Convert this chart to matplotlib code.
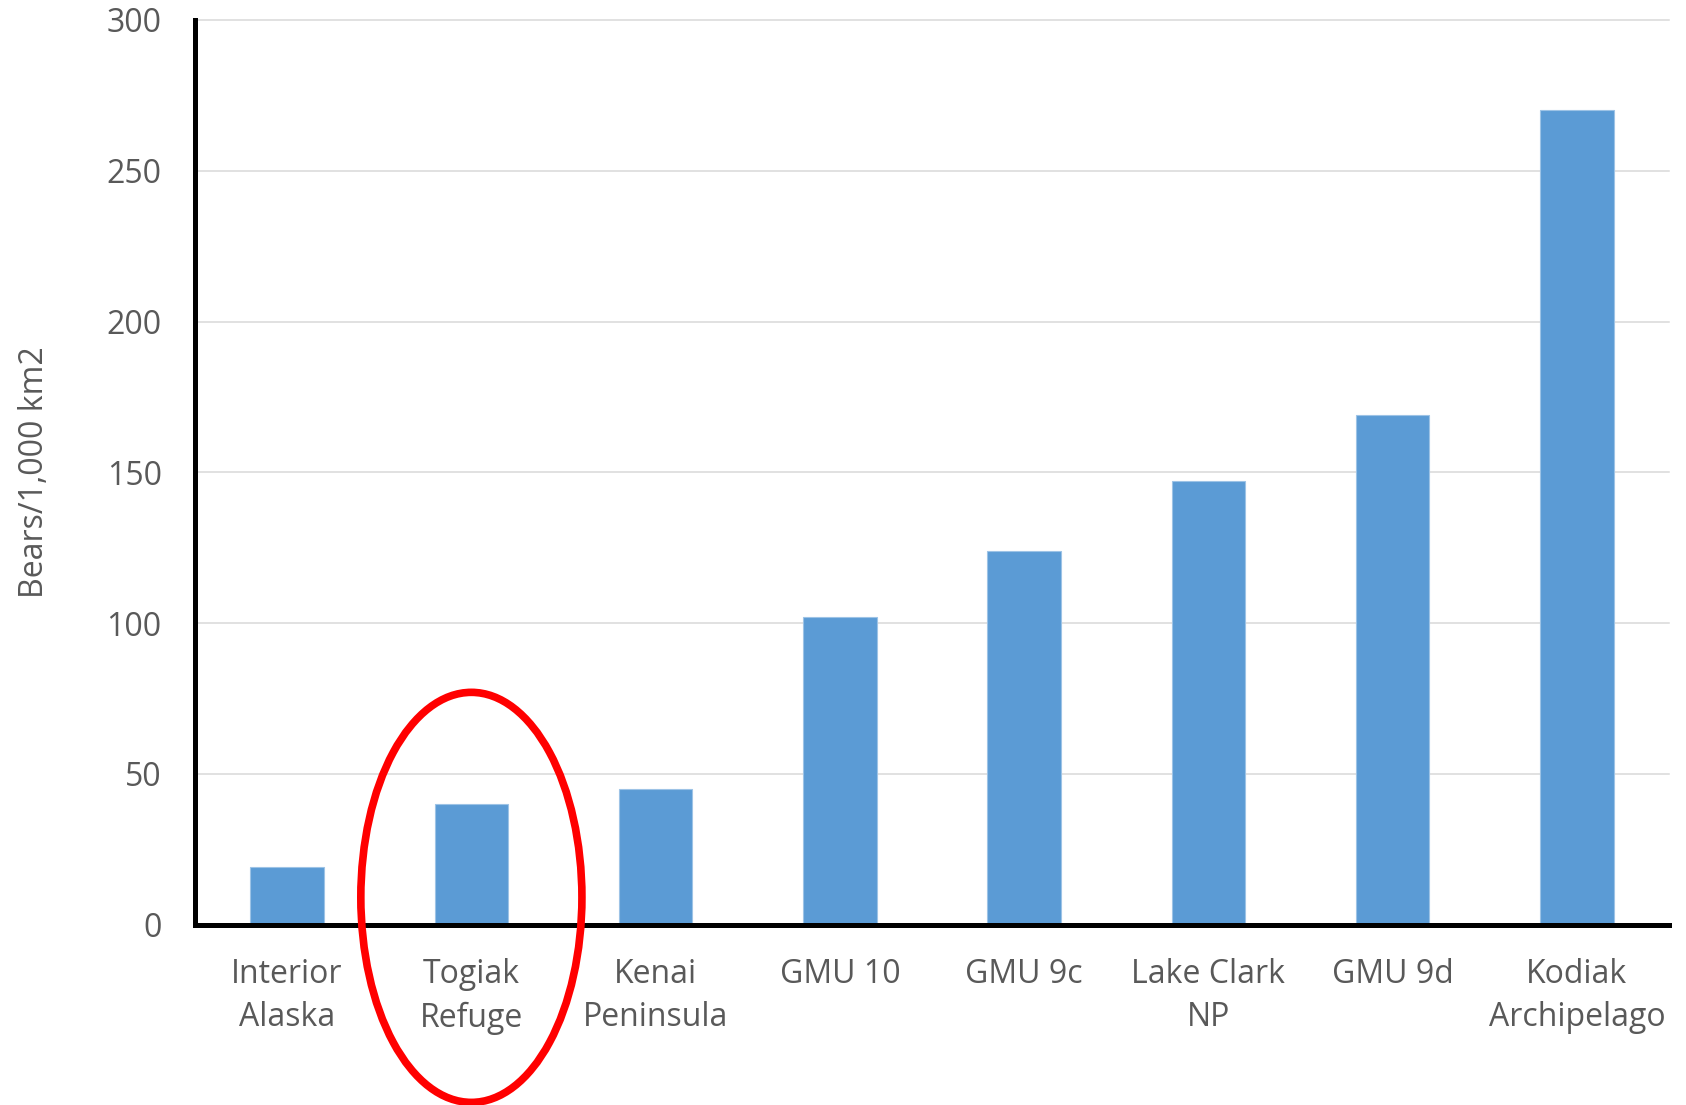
import matplotlib.pyplot as plt
from matplotlib.patches import Ellipse
import numpy as np

plt.rcParams["font.family"] = ["Open Sans", "DejaVu Sans"]

CATEGORIES = [
    "Interior\nAlaska",
    "Togiak\nRefuge",
    "Kenai\nPeninsula",
    "GMU 10",
    "GMU 9c",
    "Lake Clark\nNP",
    "GMU 9d",
    "Kodiak\nArchipelago",
]
DENSITY = [19, 40, 45, 102, 124, 147, 169, 270]
YTICKS = [0, 50, 100, 150, 200, 250, 300]
HIGHLIGHT = "Togiak\nRefuge"

BAR_COLOR = "#5b9bd5"
TEXT_COLOR = "#595959"

fig = plt.figure(figsize=(16.86, 11.05), dpi=100)
ax = fig.add_axes([195 / 1686, 1 - 924.5 / 1105, (1669 - 195) / 1686, (924.5 - 20) / 1105])

x = np.arange(len(CATEGORIES))
ax.bar(x, DENSITY, width=0.4, color=BAR_COLOR, edgecolor="#9dc3e6", linewidth=0.8, zorder=2)

ax.set_xlim(-0.5, len(CATEGORIES) - 0.5)
ax.set_ylim(0, 300)
ax.set_yticks(YTICKS)
ax.set_xticks(x)
ax.set_xticklabels(CATEGORIES, linespacing=1.42)

ax.grid(axis="y", color="#d9d9d9", linewidth=1.1, zorder=0)
ax.set_axisbelow(True)
for g in ax.get_ygridlines():
    g.set_clip_on(False)

for side in ["top", "right"]:
    ax.spines[side].set_visible(False)
for side in ["left", "bottom"]:
    ax.spines[side].set_linewidth(3.6)
    ax.spines[side].set_color("black")
    ax.spines[side].set_zorder(3)

ax.tick_params(axis="both", length=0, labelsize=23, labelcolor=TEXT_COLOR)
ax.tick_params(axis="y", pad=24)
ax.tick_params(axis="x", pad=24)

ax.set_ylabel("Bears/1,000 km2", fontsize=23, color=TEXT_COLOR, labelpad=40)

# red ring round the highlighted category
hi = CATEGORIES.index(HIGHLIGHT)
ring = Ellipse((hi, 9), width=1.2, height=136, fill=False, edgecolor="red",
               linewidth=5.5, clip_on=False, zorder=4)
ax.add_patch(ring)

plt.savefig("out.png", dpi=100)
